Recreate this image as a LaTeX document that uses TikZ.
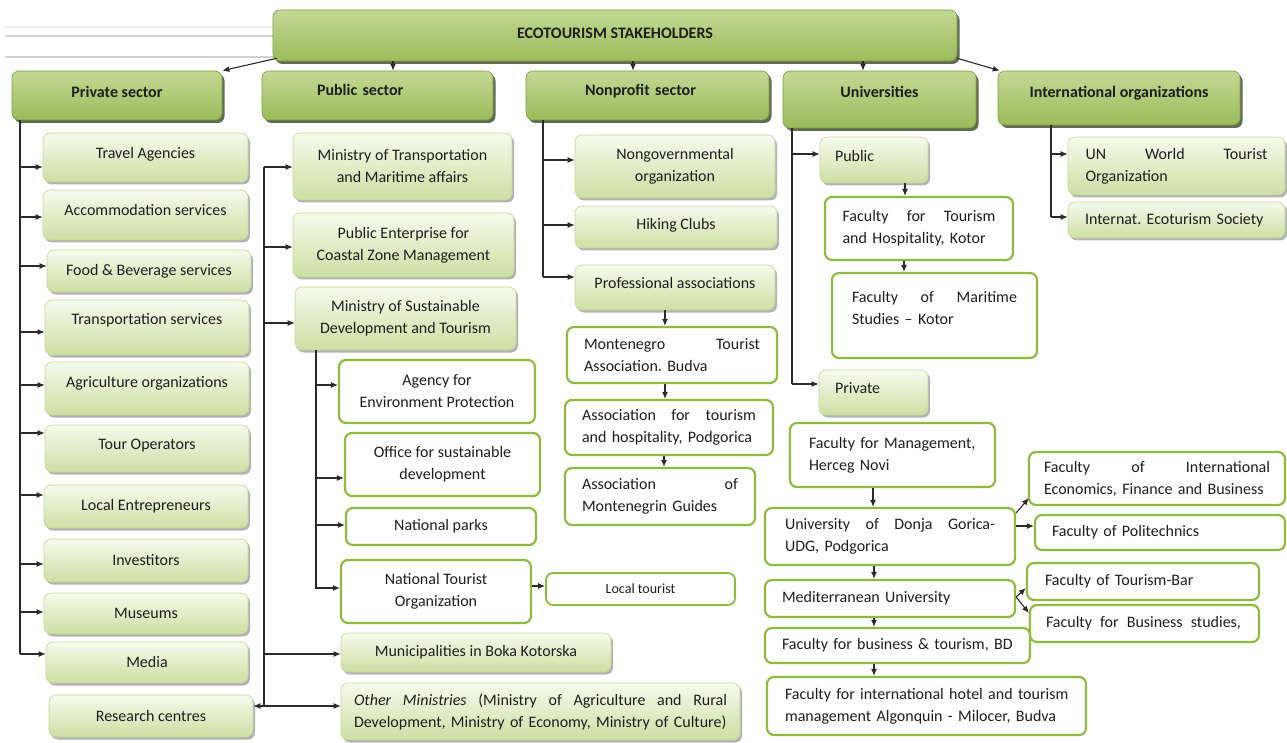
\documentclass[tikz,border=0pt]{standalone}
\usepackage{fontspec}
\setmainfont{Carlito}
\usetikzlibrary{shadows,arrows.meta}
\definecolor{txtc}{HTML}{1E1E1E}
\definecolor{lvlT}{HTML}{C3D994}
\definecolor{lvlB}{HTML}{9BBB59}
\definecolor{lvlbd}{HTML}{7E9C45}
\definecolor{shd}{HTML}{3A4726}
\definecolor{fT}{HTML}{F6FAEC}
\definecolor{fB}{HTML}{CCDFA3}
\definecolor{fbd}{HTML}{C2D798}
\definecolor{wbd}{HTML}{8CBB3F}
\definecolor{lnc}{HTML}{2A2A2A}
\definecolor{gl1}{HTML}{EBEBEB}
\definecolor{gl2}{HTML}{D2D2D2}
\frenchspacing
\newcommand\jl[2]{\hbox to #1pt{#2}}
\newcommand\harr[3]{\draw[arr] ([yshift=#2pt,xshift=#3pt]#1.west) -- ([yshift=#2pt]#1.west);}
\tikzset{
  base/.style={rounded corners=7pt, inner sep=3pt, align=center, text=txtc,
    font=\fontsize{16}{22}\selectfont},
  lvl/.style={base, draw=lvlbd, line width=0.6pt, top color=lvlT, bottom color=lvlB,
    font=\fontsize{16}{22}\selectfont\bfseries,
    drop shadow={shadow xshift=2.5pt, shadow yshift=-3pt, fill=shd, opacity=0.8}},
  fbx/.style={base, draw=fbd, line width=0.6pt, top color=fT, bottom color=fB,
    drop shadow={shadow xshift=2pt, shadow yshift=-2.5pt, fill=black, opacity=0.3}},
  wbx/.style={base, draw=wbd, line width=2.2pt, fill=white},
  lft/.style={text width=#1pt, align=left},
  tu/.style={text height=11.5pt, text depth=#1pt},
  sz/.style 2 args={minimum width=#1pt, minimum height=#2pt},
  ln/.style={draw=lnc, line width=1.1pt},
  arr/.style={ln, -{Latex[length=7pt,width=6pt]}},
}
\begin{document}
\begin{tikzpicture}[x=1pt,y=-1pt]
\useasboundingbox (0,0) rectangle (1287,743);
% scan lines at top left
\draw[gl1, line width=1.2pt] (5,27) -- (280,27);
\draw[gl2, line width=1.6pt] (5,36) -- (280,36);
\draw[gl2, line width=1.6pt] (5,57) -- (280,57);

% root
\node[lvl, sz={684}{51}, tu=5.5] (top) at (615,35.5) {ECOTOURISM STAKEHOLDERS};

% level 1
\node[lvl, sz={210}{49}, tu=7.5] (priv) at (117,95.5) {Private sector};
\node[lvl, sz={231}{49}, tu=11.5, lft=121] (pub)  at (377.5,95.5) {Public sector};
\node[lvl, sz={243}{49}, tu=11.5, lft=125] (nonp) at (647.5,95.5) {Nonprofit sector};
\node[lvl, sz={193}{57}, tu=15.5] (univ) at (879.5,99.5) {Universities};
\node[lvl, sz={242}{54}, tu=12.5] (intl) at (1119,98) {International organizations};

\draw[arr] ([xshift=4pt,yshift=3pt]top.south west) -- (priv.north east);
\draw[arr] ([xshift=-222pt]top.south) -- ([xshift=15.5pt]pub.north);
\draw[arr] ([xshift=18pt]top.south) -- ([xshift=-14.5pt]nonp.north);
\draw[arr] ([xshift=248pt]top.south) -- ([xshift=-16.5pt]univ.north);
\draw[arr] ([yshift=3pt]top.south east) -- ([xshift=2pt]intl.north west);

% private sector
\node[fbx, sz={205}{49}, tu=9.5] (travel) at (145.5,157.5) {Travel Agencies};
\node[fbx, sz={205}{50}, tu=10.5] (accom)  at (145.5,215) {Accommodation services};
\node[fbx, sz={204}{42}] (food)   at (149,271) {Food \& Beverage services};
\node[fbx, sz={204}{55}, tu=17.5] (transp) at (147,327.5) {Transportation services};
\node[fbx, sz={204}{53}, tu=13.5] (agri)   at (147,388.5) {Agriculture organizations};
\node[fbx, sz={204}{47}, tu=9.5] (tour)   at (147,448.5) {Tour Operators};
\node[fbx, sz={204}{43}, tu=3.5] (local)  at (146,506.5) {Local Entrepreneurs};
\node[fbx, sz={204}{43}, tu=1.5] (invest) at (146,560.5) {Investitors};
\node[fbx, sz={204}{41}, tu=1.5] (museum) at (146,613.5) {Museums};
\node[fbx, sz={202}{41}, tu=1.5] (media)  at (147,662.5) {Media};
\node[fbx, sz={204}{42}, tu=1.5] (research) at (151,716) {Research centres};

\coordinate (s1t) at (20,120);
\coordinate (s1b) at (20,654);
\draw[ln] (s1t) -- (s1b);
\harr{travel}{-9.5}{-23}
\harr{accom}{-2}{-23}
\harr{food}{5}{-27}
\harr{transp}{-4.5}{-25}
\harr{agri}{3.5}{-25}
\harr{tour}{15.5}{-25}
\harr{local}{11.5}{-24}
\harr{invest}{-3.5}{-24}
\harr{museum}{1.5}{-24}
\harr{media}{8.5}{-26}

% public sector
\node[fbx, sz={219}{67}] (mtrans) at (402.5,166.5) {Ministry of Transportation\\and Maritime affairs};
\node[fbx, sz={221}{64}] (penter) at (403.5,245) {Public Enterprise for\\Coastal Zone Management};
\node[fbx, sz={221}{63}] (msust)  at (405.5,318.5) {Ministry of Sustainable\\Development and Tourism};
\node[wbx, sz={196}{63}] (agency) at (437,391.5) {Agency for\\Environment Protection};
\node[wbx, sz={195}{63}] (office) at (442.5,464.5) {Office for sustainable\\development};
\node[wbx, sz={190}{37}] (parks)  at (441,526.5) {National parks};
\node[wbx, sz={190}{63}] (nto)    at (436,591.5) {National Tourist\\Organization};
\node[wbx, sz={189}{32}, line width=1.8pt, font=\fontsize{14}{18}\selectfont] (ltour) at (640.5,589) {Local tourist};
\node[fbx, sz={270}{39}] (munic)  at (476,652.5) {Municipalities in Boka Kotorska};
\node[fbx, sz={399}{57}, lft=373] (other) at (540.5,711.5)
  {\jl{373}{\textit{Other}\hfill\textit{Ministries}\hfill(Ministry\hfill of\hfill Agriculture\hfill and\hfill Rural}\\\mbox{Development, Ministry of Economy, Ministry of Culture)}};

\coordinate (s2t) at (264,167);
\coordinate (s2b) at (264,706);
\draw[ln] (s2t) -- (s2b);
\harr{mtrans}{-0.5}{-29}
\harr{penter}{-2}{-29}
\harr{msust}{-4.5}{-31}
\harr{munic}{-1.5}{-77}
\harr{other}{5.5}{-77}
\draw[arr] ([yshift=10pt,xshift=11pt]research.east) -- ([yshift=10pt]research.east);

\coordinate (s3t) at (316,350);
\coordinate (s3b) at (316,588);
\draw[ln] (s3t) -- (s3b);
\harr{agency}{6.5}{-23}
\harr{office}{-13.5}{-29}
\harr{parks}{1.5}{-30}
\harr{nto}{3.5}{-25}
\draw[arr] ([yshift=5.5pt]nto.east) -- ([yshift=3pt]ltour.west);

% nonprofit sector
\node[fbx, sz={200}{63}] (ngo)    at (675,166.5) {Nongovernmental\\organization};
\node[fbx, sz={202}{42}, tu=6.5] (hiking) at (676,227) {Hiking Clubs};
\node[fbx, sz={200}{45}, tu=9.5] (prof)   at (675,287.5) {Professional associations};
\node[wbx, sz={210}{56}, lft=176] (mta) at (672,355) {\jl{176}{Montenegro\hfill Tourist}\\Association. Budva};
\node[wbx, sz={208}{55}, lft=174] (aft) at (669,427.5) {\jl{174}{Association\hfill for\hfill tourism}\\\mbox{and hospitality, Podgorica}};
\node[wbx, sz={190}{57}, lft=156] (amg) at (660,496.5) {\jl{156}{Association\hfill of}\\Montenegrin Guides};

\coordinate (s4t) at (543,120);
\coordinate (s4b) at (543,277);
\draw[ln] (s4t) -- (s4b);
\harr{ngo}{6.5}{-32}
\harr{hiking}{2}{-32}
\harr{prof}{10.5}{-32}
\draw[arr] ([xshift=-10pt]prof.south) -- ([xshift=-7pt]mta.north);
\draw[arr] ([xshift=-7pt]mta.south) -- ([xshift=-4pt]aft.north);
\draw[arr] ([xshift=-5pt]aft.south) -- ([xshift=4pt]amg.north);

% universities
\node[fbx, sz={108}{46}, lft=78, tu=8.5] (upub) at (874,160) {Public};
\node[wbx, sz={188}{63}, lft=153] (ftour) at (919,228.5) {\jl{153}{Faculty\hfill for\hfill Tourism}\\and Hospitality, Kotor};
\node[wbx, sz={205}{85}, lft=165] (fmar) at (934.5,315.5) {\jl{165}{Faculty\hfill of\hfill Maritime}\\Studies -- Kotor\\[-7pt]\mbox{}};
\node[fbx, sz={109}{45}, lft=77, tu=9.5] (upriv) at (873.5,392.5) {Private};
\node[wbx, sz={205}{64}, lft=167] (fman) at (892.5,455) {\mbox{Faculty for Management,}\\Herceg Novi};
\node[wbx, sz={250}{57}, lft=210] (udg) at (890,536.5) {\jl{210}{University\hfill of\hfill Donja\hfill Gorica-}\\UDG, Podgorica};
\node[wbx, sz={256}{53}, lft=226] (fie) at (1157,478.5) {\jl{226}{Faculty\hfill of\hfill International}\\\mbox{Economics, Finance and Business}};
\node[wbx, sz={250}{35}, lft=216] (fpol) at (1160,532.5) {Faculty of Politechnics};
\node[wbx, sz={250}{37}, lft=216] (med) at (890,598.5) {Mediterranean University};
\node[wbx, sz={232}{37}, lft=196] (fbar) at (1143,581.5) {Faculty of Tourism-Bar};
\node[wbx, sz={229}{37}, lft=197] (fbus) at (1144.5,623.5) {\jl{195}{Faculty\hfill for\hfill Business\hfill studies,}};
\node[wbx, sz={265}{35}, lft=231] (fbt) at (897.5,645.5) {\mbox{Faculty for business \& tourism, BD}};
\node[wbx, sz={319}{58}, lft=283] (fih) at (926.5,706) {\mbox{Faculty for international hotel and tourism}\\\mbox{management Algonquin - Milocer, Budva}};

\coordinate (s5t) at (792,128);
\coordinate (s5b) at (792,384);
\draw[ln] (s5t) -- (s5b);
\harr{upub}{6}{-28}
\harr{upriv}{8.5}{-27}
\draw[arr] ([xshift=31pt]upub.south) -- ([xshift=-14pt]ftour.north);
\draw[arr] ([xshift=-15pt]ftour.south) -- ([xshift=-30.5pt]fmar.north);
\draw[arr] ([xshift=-19.5pt]fman.south) -- ([xshift=-17pt]udg.north);
\draw[arr] ([xshift=-16pt]udg.south) -- ([xshift=-16pt]med.north);
\draw[arr] ([xshift=-16pt]med.south) -- ([xshift=-23.5pt]fbt.north);
\draw[arr] ([xshift=-23.5pt]fbt.south) -- ([xshift=-52.5pt]fih.north);
\draw[arr] ([yshift=23.5pt]udg.east) -- ([yshift=-19.5pt,xshift=1pt]fie.west);
\draw[arr] ([yshift=10.5pt]udg.east) -- ([yshift=6.5pt]fpol.west);
\draw[arr] ([yshift=1.5pt]med.east) -- ([yshift=-6.5pt]fbar.west);
\draw[arr] ([yshift=1.5pt]med.east) -- ([yshift=10.5pt]fbus.west);

% international organizations
\node[fbx, sz={217}{58}, lft=182] (unwto) at (1176.5,166) {\jl{182}{UN\hfill World\hfill Tourist}\\Organization};
\node[fbx, sz={217}{36}, lft=183] (ies) at (1176.5,220) {Internat. Ecoturism Society};

\coordinate (s6t) at (1051,125);
\coordinate (s6b) at (1051,217);
\draw[ln] (s6t) -- (s6b);
\harr{unwto}{12}{-17}
\harr{ies}{3}{-17}
\end{tikzpicture}
\end{document}
